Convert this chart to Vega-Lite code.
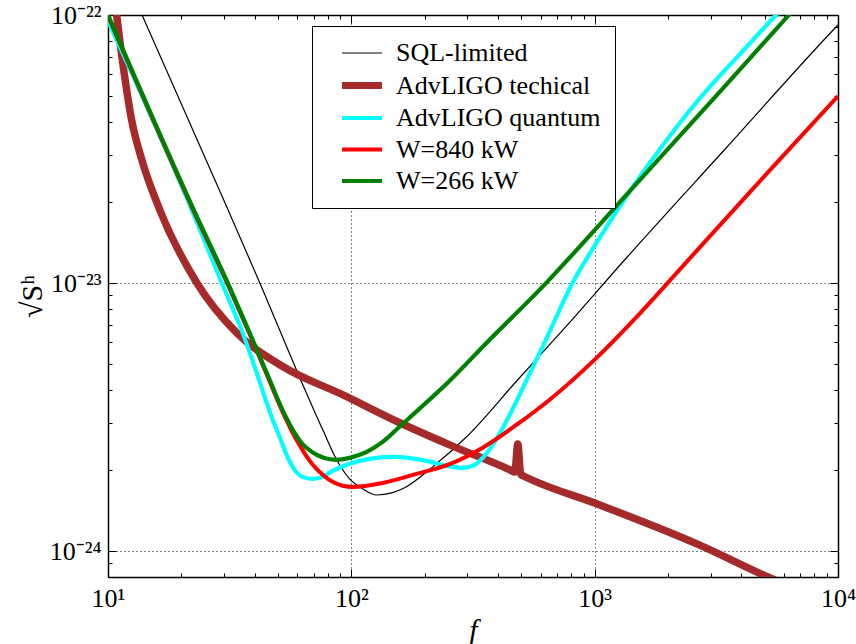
{
  "$schema": "https://vega.github.io/schema/vega-lite/v6.json",
  "width": 730,
  "height": 562,
  "autosize": {"type": "none"},
  "padding": {"left": 108, "top": 15, "right": 18, "bottom": 67},
  "background": "white",
  "config": {
    "view": {"stroke": null},
    "axis": {
      "labelFont": "Liberation Serif",
      "labelFontSize": 26,
      "labelColor": "black",
      "titleFont": "Liberation Serif",
      "titleFontSize": 30,
      "titleFontWeight": "normal",
      "titleColor": "black",
      "tickColor": "black",
      "tickWidth": 1,
      "domainColor": "black",
      "domainWidth": 1.5,
      "labelOverlap": false,
      "labelFlush": false,
      "gridColor": "black",
      "gridDash": [1, 3],
      "gridWidth": 1
    }
  },
  "data": {
    "values": [
      {"series": "SQL-limited", "f": 12.59, "S": 1.208e-22},
      {"series": "SQL-limited", "f": 13.74, "S": 1.009e-22},
      {"series": "SQL-limited", "f": 30.69, "S": 1.932e-23},
      {"series": "SQL-limited", "f": 41.98, "S": 1.005e-23},
      {"series": "SQL-limited", "f": 61.88, "S": 4.36e-24},
      {"series": "SQL-limited", "f": 76.9, "S": 2.79e-24},
      {"series": "SQL-limited", "f": 87.0, "S": 2.19e-24},
      {"series": "SQL-limited", "f": 98.4, "S": 1.858e-24},
      {"series": "SQL-limited", "f": 111.3, "S": 1.706e-24},
      {"series": "SQL-limited", "f": 127.1, "S": 1.618e-24},
      {"series": "SQL-limited", "f": 146.6, "S": 1.648e-24},
      {"series": "SQL-limited", "f": 165.6, "S": 1.722e-24},
      {"series": "SQL-limited", "f": 215.8, "S": 2.06e-24},
      {"series": "SQL-limited", "f": 297.8, "S": 2.67e-24},
      {"series": "SQL-limited", "f": 476, "S": 4.29e-24},
      {"series": "SQL-limited", "f": 768, "S": 6.93e-24},
      {"series": "SQL-limited", "f": 1355, "S": 1.245e-23},
      {"series": "SQL-limited", "f": 3491, "S": 3.21e-23},
      {"series": "SQL-limited", "f": 9908, "S": 9.1e-23},
      {"series": "SQL-limited", "f": 10000, "S": 9.18e-23},

      {"series": "AdvLIGO techical", "f": 10, "S": 1.92e-22},
      {"series": "AdvLIGO techical", "f": 10.84, "S": 1.009e-22},
      {"series": "AdvLIGO techical", "f": 11.7, "S": 5.92e-23},
      {"series": "AdvLIGO techical", "f": 12.49, "S": 4.08e-23},
      {"series": "AdvLIGO techical", "f": 13.74, "S": 2.9e-23},
      {"series": "AdvLIGO techical", "f": 16.29, "S": 1.884e-23},
      {"series": "AdvLIGO techical", "f": 23.12, "S": 1.005e-23},
      {"series": "AdvLIGO techical", "f": 33.73, "S": 6.53e-24},
      {"series": "AdvLIGO techical", "f": 52.24, "S": 4.88e-24},
      {"series": "AdvLIGO techical", "f": 92.0, "S": 3.83e-24},
      {"series": "AdvLIGO techical", "f": 158.1, "S": 3.01e-24},
      {"series": "AdvLIGO techical", "f": 253.5, "S": 2.49e-24},
      {"series": "AdvLIGO techical", "f": 447.7, "S": 2.01e-24},
      {"series": "AdvLIGO techical", "f": 469.9, "S": 1.97e-24},
      {"series": "AdvLIGO techical", "f": 483.1, "S": 2.51e-24},
      {"series": "AdvLIGO techical", "f": 496.6, "S": 1.93e-24},
      {"series": "AdvLIGO techical", "f": 510.5, "S": 1.905e-24},
      {"series": "AdvLIGO techical", "f": 1050, "S": 1.486e-24},
      {"series": "AdvLIGO techical", "f": 2704, "S": 1.052e-24},
      {"series": "AdvLIGO techical", "f": 5152, "S": 8.0e-25},
      {"series": "AdvLIGO techical", "f": 10000, "S": 6.3e-25},

      {"series": "AdvLIGO quantum", "f": 10, "S": 9.5e-23},
      {"series": "AdvLIGO quantum", "f": 22.04, "S": 1.883e-23},
      {"series": "AdvLIGO quantum", "f": 29.3, "S": 1.005e-23},
      {"series": "AdvLIGO quantum", "f": 35.73, "S": 6.53e-24},
      {"series": "AdvLIGO quantum", "f": 40.42, "S": 4.75e-24},
      {"series": "AdvLIGO quantum", "f": 44.43, "S": 3.67e-24},
      {"series": "AdvLIGO quantum", "f": 47.48, "S": 3.09e-24},
      {"series": "AdvLIGO quantum", "f": 50.72, "S": 2.67e-24},
      {"series": "AdvLIGO quantum", "f": 54.2, "S": 2.285e-24},
      {"series": "AdvLIGO quantum", "f": 58.48, "S": 2.008e-24},
      {"series": "AdvLIGO quantum", "f": 63.07, "S": 1.891e-24},
      {"series": "AdvLIGO quantum", "f": 69.34, "S": 1.859e-24},
      {"series": "AdvLIGO quantum", "f": 76.2, "S": 1.891e-24},
      {"series": "AdvLIGO quantum", "f": 83.78, "S": 1.991e-24},
      {"series": "AdvLIGO quantum", "f": 95.7, "S": 2.097e-24},
      {"series": "AdvLIGO quantum", "f": 108.2, "S": 2.17e-24},
      {"series": "AdvLIGO quantum", "f": 147.8, "S": 2.246e-24},
      {"series": "AdvLIGO quantum", "f": 204.0, "S": 2.17e-24},
      {"series": "AdvLIGO quantum", "f": 246.6, "S": 2.079e-24},
      {"series": "AdvLIGO quantum", "f": 286.9, "S": 2.043e-24},
      {"series": "AdvLIGO quantum", "f": 321.4, "S": 2.097e-24},
      {"series": "AdvLIGO quantum", "f": 346.7, "S": 2.227e-24},
      {"series": "AdvLIGO quantum", "f": 381.1, "S": 2.49e-24},
      {"series": "AdvLIGO quantum", "f": 419.0, "S": 2.88e-24},
      {"series": "AdvLIGO quantum", "f": 469.4, "S": 3.51e-24},
      {"series": "AdvLIGO quantum", "f": 525.9, "S": 4.36e-24},
      {"series": "AdvLIGO quantum", "f": 611.8, "S": 5.79e-24},
      {"series": "AdvLIGO quantum", "f": 812.8, "S": 1.005e-23},
      {"series": "AdvLIGO quantum", "f": 1020, "S": 1.417e-23},
      {"series": "AdvLIGO quantum", "f": 1268, "S": 1.932e-23},
      {"series": "AdvLIGO quantum", "f": 1852, "S": 3.155e-23},
      {"series": "AdvLIGO quantum", "f": 2705, "S": 4.89e-23},
      {"series": "AdvLIGO quantum", "f": 3953, "S": 7.15e-23},
      {"series": "AdvLIGO quantum", "f": 5609, "S": 1.009e-22},
      {"series": "AdvLIGO quantum", "f": 6342, "S": 1.138e-22},

      {"series": "W=840 kW", "f": 10, "S": 9.91e-23},
      {"series": "W=840 kW", "f": 22.47, "S": 1.859e-23},
      {"series": "W=840 kW", "f": 31.0, "S": 9.91e-24},
      {"series": "W=840 kW", "f": 38.18, "S": 6.45e-24},
      {"series": "W=840 kW", "f": 46.13, "S": 4.3e-24},
      {"series": "W=840 kW", "f": 51.68, "S": 3.365e-24},
      {"series": "W=840 kW", "f": 56.83, "S": 2.81e-24},
      {"series": "W=840 kW", "f": 61.88, "S": 2.447e-24},
      {"series": "W=840 kW", "f": 68.03, "S": 2.15e-24},
      {"series": "W=840 kW", "f": 75.5, "S": 1.941e-24},
      {"series": "W=840 kW", "f": 85.4, "S": 1.796e-24},
      {"series": "W=840 kW", "f": 101.2, "S": 1.735e-24},
      {"series": "W=840 kW", "f": 134.6, "S": 1.795e-24},
      {"series": "W=840 kW", "f": 185.5, "S": 1.941e-24},
      {"series": "W=840 kW", "f": 253.5, "S": 2.11e-24},
      {"series": "W=840 kW", "f": 346.7, "S": 2.43e-24},
      {"series": "W=840 kW", "f": 477.9, "S": 2.96e-24},
      {"series": "W=840 kW", "f": 653.1, "S": 3.67e-24},
      {"series": "W=840 kW", "f": 1020, "S": 5.27e-24},
      {"series": "W=840 kW", "f": 1532, "S": 7.69e-24},
      {"series": "W=840 kW", "f": 2460, "S": 1.236e-23},
      {"series": "W=840 kW", "f": 4775, "S": 2.4e-23},
      {"series": "W=840 kW", "f": 10000, "S": 4.98e-23},

      {"series": "W=266 kW", "f": 10, "S": 1.0e-22},
      {"series": "W=266 kW", "f": 22.47, "S": 1.883e-23},
      {"series": "W=266 kW", "f": 31.0, "S": 1.005e-23},
      {"series": "W=266 kW", "f": 38.18, "S": 6.53e-24},
      {"series": "W=266 kW", "f": 46.13, "S": 4.36e-24},
      {"series": "W=266 kW", "f": 51.68, "S": 3.42e-24},
      {"series": "W=266 kW", "f": 56.83, "S": 2.88e-24},
      {"series": "W=266 kW", "f": 62.46, "S": 2.53e-24},
      {"series": "W=266 kW", "f": 68.68, "S": 2.345e-24},
      {"series": "W=266 kW", "f": 76.9, "S": 2.227e-24},
      {"series": "W=266 kW", "f": 86.2, "S": 2.19e-24},
      {"series": "W=266 kW", "f": 98.4, "S": 2.227e-24},
      {"series": "W=266 kW", "f": 115.6, "S": 2.345e-24},
      {"series": "W=266 kW", "f": 134.5, "S": 2.555e-24},
      {"series": "W=266 kW", "f": 161.0, "S": 2.96e-24},
      {"series": "W=266 kW", "f": 190.9, "S": 3.4e-24},
      {"series": "W=266 kW", "f": 253.7, "S": 4.32e-24},
      {"series": "W=266 kW", "f": 359.9, "S": 5.99e-24},
      {"series": "W=266 kW", "f": 635.3, "S": 1.005e-23},
      {"series": "W=266 kW", "f": 790.2, "S": 1.245e-23},
      {"series": "W=266 kW", "f": 1489, "S": 2.355e-23},
      {"series": "W=266 kW", "f": 3491, "S": 5.52e-23},
      {"series": "W=266 kW", "f": 6339, "S": 1.009e-22},
      {"series": "W=266 kW", "f": 7311, "S": 1.167e-22}
    ]
  },
  "layer": [
    {
      "transform": [{"filter": {"field": "series", "equal": "SQL-limited"}}],
      "mark": {"type": "line", "clip": true, "interpolate": "monotone", "strokeWidth": 1.2},
      "encoding": {
        "x": {
          "field": "f",
          "type": "quantitative",
          "scale": {"type": "log", "domain": [10, 10000], "nice": false},
          "axis": {
            "values": [10,20,30,40,50,60,70,80,90,100,200,300,400,500,600,700,800,900,1000,2000,3000,4000,5000,6000,7000,8000,9000,10000],
            "labelExpr": "datum.value == 10 ? '10¹' : datum.value == 100 ? '10²' : datum.value == 1000 ? '10³' : datum.value == 10000 ? '10⁴' : ''",
            "tickSize": {"condition": {"test": "indexof([10,100,1000,10000], datum.value) >= 0", "value": -8}, "value": -4},
            "grid": true,
            "gridOpacity": {"condition": {"test": "indexof([100,1000], datum.value) >= 0", "value": 1}, "value": 0},
            "labelPadding": 16,
            "title": "f",
            "titleFontStyle": "italic",
            "titlePadding": 0
          }
        },
        "y": {
          "field": "S",
          "type": "quantitative",
          "scale": {"type": "log", "domain": [8e-25, 1e-22], "nice": false},
          "axis": {
            "values": [8e-25,9e-25,1e-24,2e-24,3e-24,4e-24,5e-24,6e-24,7e-24,8e-24,9e-24,1e-23,2e-23,3e-23,4e-23,5e-23,6e-23,7e-23,8e-23,9e-23,1e-22],
            "labelExpr": "datum.value == 1e-22 ? '10⁻²²' : datum.value == 1e-23 ? '10⁻²³' : datum.value == 1e-24 ? '10⁻²⁴' : ''",
            "tickSize": {"condition": {"test": "indexof([1e-22,1e-23,1e-24], datum.value) >= 0", "value": -8}, "value": -4},
            "grid": true,
            "gridOpacity": {"condition": {"test": "indexof([1e-23,1e-24], datum.value) >= 0", "value": 1}, "value": 0},
            "labelPadding": 15,
            "title": "√Sʰ",
            "titlePadding": 2
          }
        },
        "color": {
          "field": "series",
          "type": "nominal",
          "scale": {
            "domain": ["SQL-limited", "AdvLIGO techical", "AdvLIGO quantum", "W=840 kW", "W=266 kW"],
            "range": ["#000000", "#a52a2a", "#00ffff", "#ff0000", "#008000"]
          },
          "legend": {
            "title": null,
            "orient": "none",
            "legendX": 204,
            "legendY": 11,
            "padding": 14,
            "rowPadding": 5.5,
            "symbolType": "M-1.25,0H1.25",
            "symbolSize": 1024,
            "symbolOffset": 23,
            "labelOffset": 21,
            "labelFont": "Liberation Serif",
            "labelFontSize": 26,
            "labelColor": "black",
            "labelLimit": 400,
            "labelExpr": "datum.label + '\u00a0\u00a0\u00a0\u00a0'",
            "strokeColor": "black",
            "fillColor": "white",
            "cornerRadius": 0,
            "encode": {"symbols": {"update": {"strokeWidth": {"signal": "datum.value == 'SQL-limited' ? 1.2 : datum.value == 'AdvLIGO techical' ? 7 : 4"}}}}
          }
        }
      }
    },
    {
      "transform": [{"filter": {"field": "series", "equal": "AdvLIGO techical"}}],
      "mark": {"type": "line", "clip": true, "interpolate": "monotone", "strokeWidth": 7.5},
      "encoding": {
        "x": {"field": "f", "type": "quantitative", "axis": null},
        "y": {"field": "S", "type": "quantitative", "axis": null},
        "color": {"field": "series", "type": "nominal"}
      }
    },
    {
      "transform": [{"filter": {"field": "series", "equal": "AdvLIGO quantum"}}],
      "mark": {"type": "line", "clip": true, "interpolate": "monotone", "strokeWidth": 4.2},
      "encoding": {
        "x": {"field": "f", "type": "quantitative", "axis": null},
        "y": {"field": "S", "type": "quantitative", "axis": null},
        "color": {"field": "series", "type": "nominal"}
      }
    },
    {
      "transform": [{"filter": {"field": "series", "equal": "W=840 kW"}}],
      "mark": {"type": "line", "clip": true, "interpolate": "monotone", "strokeWidth": 4},
      "encoding": {
        "x": {"field": "f", "type": "quantitative", "axis": null},
        "y": {"field": "S", "type": "quantitative", "axis": null},
        "color": {"field": "series", "type": "nominal"}
      }
    },
    {
      "transform": [{"filter": {"field": "series", "equal": "W=266 kW"}}],
      "mark": {"type": "line", "clip": true, "interpolate": "monotone", "strokeWidth": 4.2},
      "encoding": {
        "x": {"field": "f", "type": "quantitative", "axis": null},
        "y": {"field": "S", "type": "quantitative", "axis": null},
        "color": {"field": "series", "type": "nominal"}
      }
    },
    {
      "mark": {"type": "point", "opacity": 0},
      "encoding": {
        "x": {
          "field": "f",
          "type": "quantitative",
          "axis": {
            "orient": "top",
            "values": [10,20,30,40,50,60,70,80,90,100,200,300,400,500,600,700,800,900,1000,2000,3000,4000,5000,6000,7000,8000,9000,10000],
            "labels": false,
            "grid": false,
            "title": null,
            "tickSize": {"condition": {"test": "indexof([10,100,1000,10000], datum.value) >= 0", "value": -8}, "value": -4}
          }
        },
        "y": {
          "field": "S",
          "type": "quantitative",
          "axis": {
            "orient": "right",
            "values": [8e-25,9e-25,1e-24,2e-24,3e-24,4e-24,5e-24,6e-24,7e-24,8e-24,9e-24,1e-23,2e-23,3e-23,4e-23,5e-23,6e-23,7e-23,8e-23,9e-23,1e-22],
            "labels": false,
            "grid": false,
            "title": null,
            "tickSize": {"condition": {"test": "indexof([1e-22,1e-23,1e-24], datum.value) >= 0", "value": -8}, "value": -4}
          }
        }
      }
    }
  ],
  "resolve": {"axis": {"x": "independent", "y": "independent"}}
}
